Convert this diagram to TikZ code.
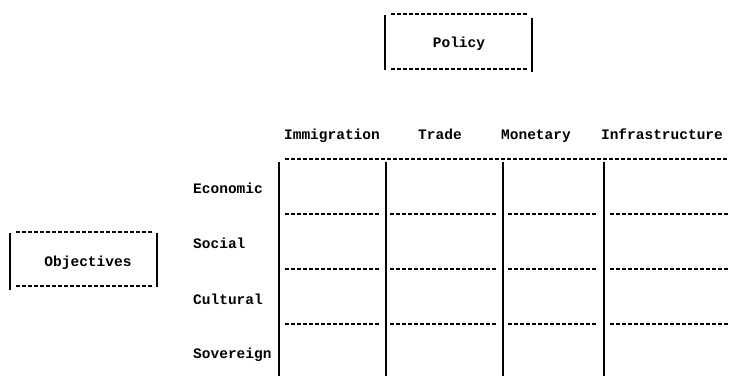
\documentclass[tikz,border=0pt]{standalone}
\usepackage{fontspec}
\setmonofont{Liberation Mono}
\usepackage{tikz}
\usetikzlibrary{positioning}

\tikzset{
  lbl/.style={inner sep=0pt, font=\ttfamily\bfseries\fontsize{14.5}{17}\selectfont},
  dashline/.style={line width=1.3pt, dash pattern=on 4pt off 2pt},
  rule/.style={line width=1.3pt}
}

\begin{document}
\begin{tikzpicture}[x=1pt,y=-1pt]
          \useasboundingbox (0,0) rectangle (729,377);
          % policy box
          \node [lbl, anchor=base] (policy) at (459,48) {Policy};
          \draw [dashline] (391,14) -- (528,14);
          \draw [dashline] (391,69) -- (528,69);
          \draw [rule] (385,15) -- (385,70);
          \draw [rule] (532,18) -- (532,72);
          % objectives box
          \node [lbl, anchor=base] (objectives) at (88,266) {Objectives};
          \draw [dashline] (16,232) -- (153,232);
          \draw [dashline] (16,286) -- (153,286);
          \draw [rule] (10,233) -- (10,290);
          \draw [rule] (157,233) -- (157,287);
          % column heads
          \node [lbl, anchor=base] (immigration) at (332,140) {Immigration};
          \node [lbl, anchor=base] (trade) at (440,140) {Trade};
          \node [lbl, anchor=base] (monetary) at (536,140) {Monetary};
          \node [lbl, anchor=base] (infra) at (662,140) {Infrastructure};
          % row heads
          \node [lbl, anchor=base west] (economic) at (193,194) {Economic};
          \node [lbl, anchor=base west] (social) at (193,248) {Social};
          \node [lbl, anchor=base west] (cultural) at (193,304) {Cultural};
          \node [lbl, anchor=base west] (sovereign) at (193,358) {Sovereign};
          % grid
          \draw [dashline] (285,159) -- (728,159);
          \foreach \a/\b in {285/380, 390/497, 508/598, 610/728}{
            \foreach \y in {214, 269, 324}{
              \draw [dashline] (\a,\y) -- (\b,\y);
            }
          }
          \foreach \x in {279, 386, 503, 604}{
            \draw [rule] (\x,162) -- (\x,376);
          }
        \end{tikzpicture}
\end{document}
